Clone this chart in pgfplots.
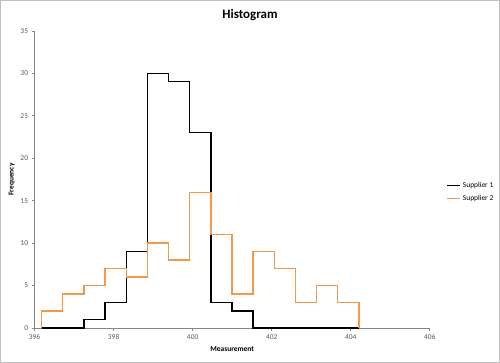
\documentclass[border=0pt]{standalone}
\usepackage{fontspec}
\setmainfont{Carlito}
\usepackage{pgfplots}
\pgfplotsset{compat=1.18}
\definecolor{sup2}{RGB}{247,150,70}
\definecolor{axgray}{RGB}{134,134,134}
\definecolor{ticktext}{RGB}{89,89,89}
\definecolor{framegray}{RGB}{191,191,191}
\begin{document}
\begin{tikzpicture}
\draw[draw=framegray, line width=0.75bp] (0.5bp,0.5bp) rectangle (499.5bp,362.5bp);
\begin{axis}[
  at={(34.7bp,35bp)}, anchor=south west,
  scale only axis, width=395bp, height=297bp,
  xmin=396, xmax=406, ymin=0, ymax=35,
  xtick={396,398,...,406}, ytick={0,5,...,35},
  axis x line*=bottom, axis y line*=left,
  axis line style={-, draw=axgray, line width=0.75bp},
  tick style={draw=axgray, line width=0.6bp},
  tick align=outside, major tick length=3bp,
  /pgf/number format/assume math mode=true,
  /pgf/number format/1000 sep={},
  ticklabel style={font=\fontsize{7.5}{9}\selectfont, text=ticktext},
  title={Histogram},
  title style={at={(axis description cs:0.545,1.034)}, anchor=center, font=\fontsize{13}{15}\selectfont\bfseries},
  xlabel={Measurement},
  xlabel style={at={(axis description cs:0.5,-0.0707)}, anchor=center, font=\fontsize{7.5}{9}\selectfont\bfseries},
  ylabel={Frequency},
  ylabel style={at={(axis description cs:-0.0575,0.5)}, anchor=center, font=\fontsize{7.5}{9}\selectfont\bfseries},
  legend style={at={(axis description cs:1.042,0.458)}, anchor=west, draw=none, fill=none,
    font=\fontsize{7.5}{9}\selectfont, row sep=2bp, inner sep=0pt},
  legend cell align=left,
  legend image code/.code={\draw[#1] (0bp,0bp) -- (13bp,0bp);},
]
\addplot[const plot, black, line width=1.3bp] coordinates {
  (396.18,0) (396.715,0) (397.25,1) (397.785,3) (398.32,9) (398.855,30)
  (399.39,29) (399.925,23) (400.46,3) (400.995,2) (401.53,0) (402.065,0)
  (402.6,0) (403.135,0) (403.67,0) (404.205,0)
};
\addlegendentry{Supplier 1}
\addplot[const plot, sup2, line width=1.3bp] coordinates {
  (396.18,0) (396.18,2) (396.715,4) (397.25,5) (397.785,7) (398.32,6) (398.855,10)
  (399.39,8) (399.925,16) (400.46,11) (400.995,4) (401.53,9) (402.065,7)
  (402.6,3) (403.135,5) (403.67,3) (404.205,0)
};
\addlegendentry{Supplier 2}
\end{axis}
\end{tikzpicture}
\end{document}
